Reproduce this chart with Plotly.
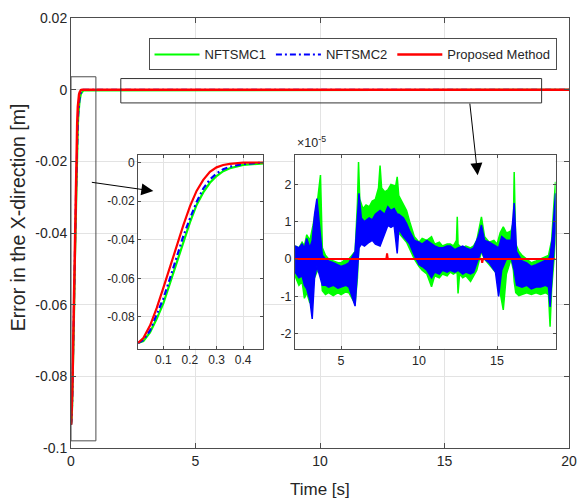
import plotly.graph_objects as go

# ---------------- data ----------------
# transient part (time [s], error [m])
t_trans = [0.005, 0.025, 0.05, 0.075, 0.1, 0.125, 0.15, 0.175, 0.2, 0.225,
           0.25, 0.275, 0.3, 0.325, 0.35, 0.4, 0.45, 0.5]
e_nftsmc1 = [-0.0935, -0.0925, -0.088, -0.081, -0.073, -0.0625, -0.051, -0.0405,
             -0.031, -0.022, -0.0155, -0.0105, -0.007, -0.0045, -0.003, -0.0012,
             -0.0005, -0.0002]
e_nftsmc2 = [-0.0935, -0.092, -0.087, -0.079, -0.0705, -0.060, -0.0485, -0.0382,
             -0.029, -0.0205, -0.0135, -0.0088, -0.0057, -0.0035, -0.0022, -0.0008,
             -0.0002, 0.0]
e_proposed = [-0.0935, -0.091, -0.0845, -0.0755, -0.065, -0.054, -0.0433, -0.0326,
              -0.0227, -0.0147, -0.009, -0.0048, -0.0025, -0.0013, -0.0007, -0.0001,
              0.0, 0.0]
t_end = [20.0]
e_end = [0.0]

# steady-state band (units of 1e-5 m): NFTSMC1 envelope
g_t = [2.05, 2.3, 2.5, 2.65, 2.8, 3.0, 3.2, 3.5, 3.68, 3.8, 4.0, 4.2, 4.5, 4.8, 5.0, 5.3, 5.5, 5.9,
       6.05, 6.12, 6.2, 6.4, 6.6, 6.8, 7.0, 7.2, 7.4, 7.5, 7.6, 7.8, 8.0, 8.2, 8.5, 8.6, 8.7,
       9.0, 9.2, 9.4, 9.7, 10.0, 10.2, 10.5, 10.8, 11.0, 11.3, 11.5, 11.8, 12.0, 12.2, 12.4,
       12.45, 12.5, 12.6, 12.8, 13.0, 13.3, 13.5, 13.7, 14.0, 14.2, 14.5, 14.8, 15.0, 15.2,
       15.4, 15.6, 15.9, 16.05, 16.1, 16.2, 16.4, 16.6, 16.9, 17.2, 17.5, 17.8, 18.1, 18.3,
       18.4, 18.5, 18.65, 18.75]
g_up = [0.35, 0.3, 0.45, 0.35, 0.65, 0.5, 0.9, 1.6, 2.25, 0.3, 0.1, 0.0, -0.05, -0.1, -0.1, 0.0, 0.0, 0.2,
        1.5, 2.6, 1.6, 1.35, 1.45, 1.4, 1.55, 1.6, 1.9, 2.5, 1.9, 1.8, 1.85, 2.0, 1.95, 2.2, 1.7,
        1.45, 1.3, 1.0, 0.6, 0.45, 0.55, 0.5, 0.6, 0.4, 0.45, 0.35, 0.4, 0.4, 0.35, 0.5,
        1.13, 0.4, 0.35, 0.3, 0.35, 0.3, 0.35, 0.5, 1.13, 0.6, 0.45, 0.5, 0.4, 0.7,
        0.86, 0.7, 0.75, 1.0, 2.33, 0.4, 0.2, 0.1, 0.0, -0.1, -0.05, 0.0, 0.05, 0.1,
        0.3, 0.5, 1.5, 2.07]
g_lo = [-0.45, -0.7, -0.6, -1.05, -0.9, -1.18, -0.6, -0.3, -0.2, -0.85, -0.95, -0.9, -0.98, -0.9, -0.95, -0.88, -0.9, -1.2,
        -0.5, 0.2, 0.5, 0.65, 0.6, 0.7, 0.6, 0.7, 0.75, 0.8, 0.8, 0.85, 0.9, 1.0, 0.95, 0.9, 0.7,
        0.55, 0.45, 0.3, 0.0, -0.2, -0.3, -0.4, -0.74, -0.45, -0.5, -0.4, -0.45, -0.35, -0.4, -0.35,
        -0.4, -0.92, -0.4, -0.5, -0.45, -0.6, -0.45, -0.3, 0.2, 0.0, -0.15, -0.3, -0.4, -0.9,
        -1.36, -0.4, 0.0, -0.3, -0.6, -0.9, -0.98, -0.95, -0.9, -0.95, -0.9, -0.95, -0.9, -0.95,
        -1.81, -0.8, 0.0, 0.5]

# NFTSMC2 envelope
b_t = [2.05, 2.3, 2.5, 2.65, 2.8, 3.0, 3.15, 3.3, 3.45, 3.6, 3.8, 4.0, 4.2, 4.5, 4.8, 5.0, 5.3, 5.5, 5.9,
       6.05, 6.15, 6.3, 6.5, 6.8, 7.0, 7.2, 7.5, 7.8, 8.0, 8.2, 8.4, 8.6, 8.7, 9.0, 9.2, 9.4,
       9.7, 10.0, 10.2, 10.5, 10.8, 11.0, 11.3, 11.5, 11.8, 12.0, 12.3, 12.5, 12.8, 13.0, 13.3,
       13.5, 13.8, 14.0, 14.2, 14.5, 14.9, 15.1, 15.3, 15.6, 15.9, 16.1, 16.25, 16.6, 16.9,
       17.2, 17.5, 17.8, 18.1, 18.3, 18.4, 18.55, 18.75]
b_up = [0.35, 0.3, 0.4, 0.3, 0.55, 0.3, 0.5, 1.2, 1.62, 1.0, 0.1, 0.0, -0.05, -0.1, -0.15, -0.2, -0.15, -0.1, 0.2,
        1.2, 1.76, 1.1, 1.0, 1.1, 1.05, 1.2, 1.3, 1.2, 1.4, 1.3, 1.35, 1.2, 1.2, 1.1, 0.95, 0.75,
        0.5, 0.45, 0.4, 0.5, 0.4, 0.35, 0.3, 0.3, 0.35, 0.35, 0.25, 0.3, 0.35, 0.3, 0.25,
        0.3, 0.6, 0.91, 0.5, 0.45, 0.35, 0.3, 0.6, 0.5, 0.5, 1.5, 0.2, -0.05, -0.1,
        -0.2, -0.15, -0.1, -0.05, 0.0, 0.1, 0.6, 1.76]
b_lo = [-0.35, -0.5, -0.45, -0.7, -0.8, -1.1, -1.6, -0.5, -0.2, -0.4, -0.7, -0.7, -0.75, -0.7, -0.78, -0.75, -0.7, -0.75, -1.26,
        -0.3, 0.3, 0.4, 0.35, 0.45, 0.5, 0.4, 0.35, 0.7, 0.9, 0.85, 0.9, 0.15, 0.8, 0.6, 0.5, 0.4,
        0.1, -0.15, -0.2, -0.3, -0.5, -0.35, -0.4, -0.3, -0.35, -0.3, -0.35, -0.3, -0.4, -0.35, -0.4,
        -0.35, 0.0, 0.24, 0.0, -0.1, -0.35, -1.0, -0.3, 0.0, 0.05, -0.3, -0.7, -0.75, -0.7,
        -0.8, -0.75, -0.75, -0.7, -0.75, -1.28, -0.3, 0.8]

# Proposed method in the zoomed window
r_t = [2.05, 7.9, 7.95, 8.0, 14.0, 14.05, 14.1, 18.75]
r_e = [0.0, 0.0, 0.15, 0.0, 0.0, -0.1, 0.0, 0.0]

# ticks
main_xticks = [0, 5, 10, 15, 20]
main_yticks = [-0.1, -0.08, -0.06, -0.04, -0.02, 0, 0.02]
main_ylabels = ['-0.1', '-0.08', '-0.06', '-0.04', '-0.02', '0', '0.02']
in1_xticks = [0.1, 0.2, 0.3, 0.4]
in1_yticks = [-0.08, -0.06, -0.04, -0.02, 0]
in1_ylabels = ['-0.08', '-0.06', '-0.04', '-0.02', '0']
in2_xticks = [5, 10, 15]
in2_yticks = [-2, -1, 0, 1, 2]
in2_ylabels = ['-2', '-1', '0', '1', '2']

names = ['NFTSMC1', 'NFTSMC2', 'Proposed Method']

# ---------------- style ----------------
W, H = 580, 500
ML, MR, MT, MB = 70.5, 10.5, 17.5, 51.5
PW, PH = W - ML - MR, H - MT - MB
GREEN, BLUE, RED = '#00ff00', '#0000ff', '#ff0000'
FONT = 'Liberation Sans, Arial, sans-serif'
TXT = '#262626'
AX = '#4d4d4d'
GRID = '#e3e3e3'


def px(x):
    return (x - ML) / PW


def py(y):
    return (H - MB - y) / PH


fig = go.Figure()

# main
fig.add_trace(go.Scatter(x=t_trans + t_end, y=e_nftsmc1 + e_end, mode='lines', name=names[0],
                         line=dict(color=GREEN, width=2), xaxis='x', yaxis='y'))
fig.add_trace(go.Scatter(x=t_trans + t_end, y=e_nftsmc2 + e_end, mode='lines', name=names[1],
                         line=dict(color=BLUE, width=2, dash='6px,3px,2px,3px'), xaxis='x', yaxis='y'))
fig.add_trace(go.Scatter(x=t_trans + t_end, y=e_proposed + e_end, mode='lines', name=names[2],
                         line=dict(color=RED, width=2.5), xaxis='x', yaxis='y'))

# inset 1
fig.add_trace(go.Scatter(x=t_trans, y=e_nftsmc1, mode='lines', showlegend=False,
                         line=dict(color=GREEN, width=2.2), xaxis='x2', yaxis='y2'))
fig.add_trace(go.Scatter(x=t_trans, y=e_nftsmc2, mode='lines', showlegend=False,
                         line=dict(color=BLUE, width=2.2, dash='6px,3px,2px,3px'), xaxis='x2', yaxis='y2'))
fig.add_trace(go.Scatter(x=t_trans, y=e_proposed, mode='lines', showlegend=False,
                         line=dict(color=RED, width=2.2), xaxis='x2', yaxis='y2'))

# inset 2
fig.add_trace(go.Scatter(x=g_t + g_t[::-1], y=g_up + g_lo[::-1], mode='lines', fill='toself',
                         fillcolor=GREEN, showlegend=False,
                         line=dict(color=GREEN, width=1.5), xaxis='x3', yaxis='y3'))
fig.add_trace(go.Scatter(x=b_t + b_t[::-1], y=b_up + b_lo[::-1], mode='lines', fill='toself',
                         fillcolor=BLUE, showlegend=False,
                         line=dict(color=BLUE, width=1.5), xaxis='x3', yaxis='y3'))
fig.add_trace(go.Scatter(x=r_t, y=r_e, mode='lines', showlegend=False,
                         line=dict(color=RED, width=2), xaxis='x3', yaxis='y3'))


def ax_style(size, ticklen):
    return dict(showline=True, linecolor=AX, linewidth=1, mirror='ticks', ticks='inside',
                tickcolor=AX, ticklen=ticklen, showgrid=True, gridcolor=GRID, gridwidth=1,
                zeroline=False, automargin=False, tickfont=dict(family=FONT, color=TXT, size=size))


fig.update_layout(
    width=W, height=H, margin=dict(l=ML, r=MR, t=MT, b=MB, pad=0, autoexpand=False),
    paper_bgcolor='white', plot_bgcolor='white',
    font=dict(family=FONT, color=TXT),
    xaxis=dict(domain=[0, 1], range=[0, 20], tickvals=main_xticks, anchor='y', **ax_style(14, 5)),
    yaxis=dict(domain=[0, 1], range=[-0.1, 0.02], tickvals=main_yticks,
               ticktext=main_ylabels, anchor='x', **ax_style(14, 5)),
    xaxis2=dict(domain=[px(137.7), px(263)], range=[0.005, 0.475], tickvals=in1_xticks,
                anchor='y2', **ax_style(12, 3)),
    yaxis2=dict(domain=[py(349), py(155)], range=[-0.0965, 0.0038], tickvals=in1_yticks,
                ticktext=in1_ylabels, anchor='x2', **ax_style(12, 3)),
    xaxis3=dict(domain=[px(295), px(556)], range=[2.05, 18.75], tickvals=in2_xticks,
                anchor='y3', **ax_style(12.5, 3)),
    yaxis3=dict(domain=[py(349), py(155)], range=[-2.4, 2.78], tickvals=in2_yticks,
                ticktext=in2_ylabels, anchor='x3', **ax_style(12.5, 3)),
    legend=dict(orientation='h', x=px(557), xanchor='right', y=py(38), yanchor='top',
                bgcolor='white', bordercolor=AX, borderwidth=1,
                font=dict(family=FONT, color=TXT, size=13), itemwidth=45,
                tracegroupgap=0),
    showlegend=True,
)

# zoom rectangles on main axes
fig.add_shape(type='rect', xref='x', yref='y', x0=0, x1=1, y0=-0.098, y1=0.0036,
              line=dict(color=AX, width=1))
fig.add_shape(type='rect', xref='x', yref='y', x0=2, x1=18.9, y0=-0.0037, y1=0.0031,
              line=dict(color='#333333', width=1))

# arrows
fig.add_annotation(x=px(153), y=py(191), xref='paper', yref='paper', ax=-63, ay=-9,
                   text='', showarrow=True, arrowhead=2, arrowsize=2.4, arrowwidth=1,
                   arrowcolor='black')
fig.add_annotation(x=px(478), y=py(175), xref='paper', yref='paper', ax=-8, ay=-73,
                   text='', showarrow=True, arrowhead=2, arrowsize=2.4, arrowwidth=1,
                   arrowcolor='black')

# axis titles and exponent label
fig.add_annotation(x=px(17), y=py(217.5), xref='paper', yref='paper', text='Error in the X-direction [m]',
                   textangle=-90, showarrow=False, font=dict(family=FONT, size=19.5, color=TXT),
                   xanchor='center', yanchor='middle')
fig.add_annotation(x=px(320), y=py(490), xref='paper', yref='paper', text='Time [s]',
                   showarrow=False, font=dict(family=FONT, size=17, color=TXT),
                   xanchor='center', yanchor='middle')
fig.add_annotation(x=px(295), y=py(152), xref='paper', yref='paper', text='×10<sup>-5</sup>',
                   showarrow=False, font=dict(family=FONT, size=12.5, color=TXT),
                   xanchor='left', yanchor='bottom')

fig.write_html('out.html', config={'displayModeBar': False},
               post_script="document.body.style.margin='0';document.body.style.overflow='hidden';")
